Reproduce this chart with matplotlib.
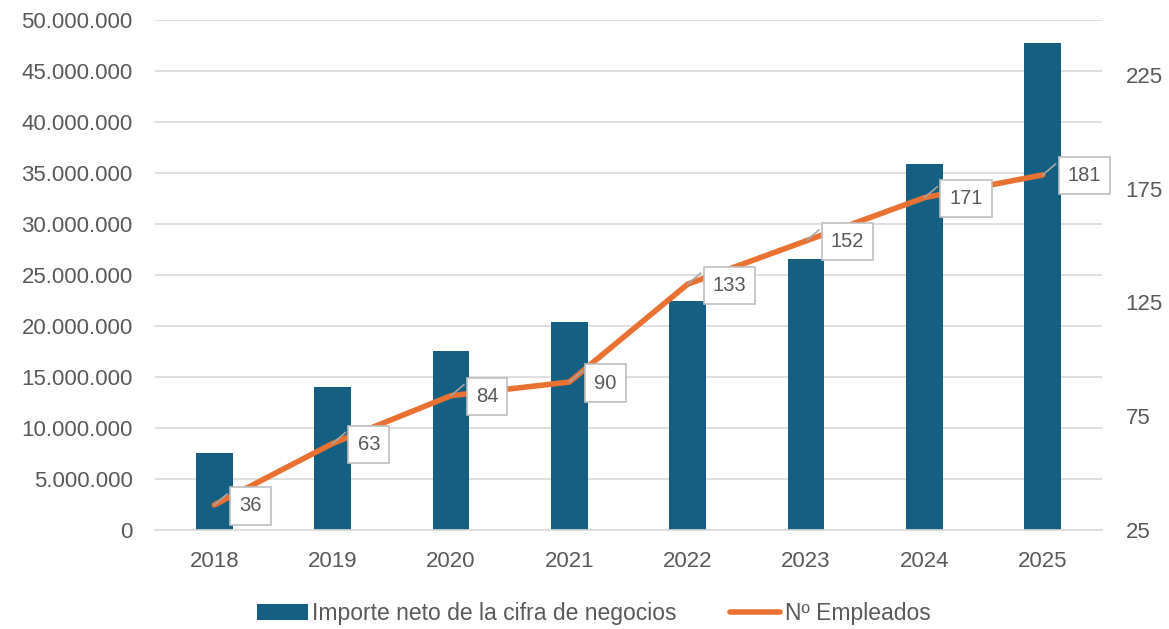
import numpy as np
import matplotlib
matplotlib.use("Agg")
import matplotlib.pyplot as plt
from matplotlib.ticker import FuncFormatter

plt.rcParams["font.family"] = ["Liberation Sans", "DejaVu Sans"]

years = ["2018", "2019", "2020", "2021", "2022", "2023", "2024", "2025"]
importe = [7550000, 14050000, 17550000, 20400000, 22450000, 26550000, 35900000, 47800000]
empleados = [36, 63, 84, 90, 133, 152, 171, 181]

bar_color = "#156082"
line_color = "#E97132"
text_color = "#595959"
grid_color = "#D9D9D9"

fig = plt.figure(figsize=(11.69, 6.29), dpi=100)
ax = fig.add_axes([0.1326, 0.1574, 0.81, 0.8106])
ax2 = ax.twinx()

x = np.arange(len(years))
ax.bar(x, importe, width=0.31, color=bar_color, zorder=2,
       label="Importe neto de la cifra de negocios")
ax.set_ylim(0, 50000000)
ax.set_yticks(np.arange(0, 50000001, 5000000))
ax.yaxis.set_major_formatter(FuncFormatter(lambda v, p: f"{int(v):,}".replace(",", ".")))
ax.grid(axis="y", color=grid_color, linewidth=1.2, zorder=0)
ax.set_axisbelow(True)
ax.set_xlim(-0.5, len(years) - 0.5)
ax.set_xticks(x)
ax.set_xticklabels(years)

ax2.plot(x, empleados, color=line_color, linewidth=4, solid_capstyle="round",
         zorder=3, label="Nº Empleados")
ax2.set_ylim(25, 249)
ax2.set_yticks([25, 75, 125, 175, 225])

for a in (ax, ax2):
    for s in a.spines.values():
        s.set_visible(False)
    a.tick_params(length=0, labelsize=16, labelcolor=text_color)
ax.tick_params(axis="x", pad=15)
ax.tick_params(axis="y", pad=16)
ax2.tick_params(axis="y", pad=17)
ax.spines["bottom"].set_visible(True)
ax.spines["bottom"].set_color(grid_color)
ax.spines["bottom"].set_linewidth(1.2)

# etiquetas con linea guia
for xi, v in zip(x, empleados):
    ax2.annotate("", xy=(xi, v), xytext=(13, 11), textcoords="offset pixels",
                 arrowprops=dict(arrowstyle="-", color="#A6A6A6", lw=1.2,
                                 shrinkA=0, shrinkB=0), zorder=4)
    ax2.annotate(str(v), xy=(xi, v), xytext=(25, -1), textcoords="offset pixels",
                 ha="left", va="center", fontsize=14.5, color=text_color, zorder=5,
                 bbox=dict(boxstyle="square,pad=0.45", fc="white", ec="#BFBFBF", lw=1.2))

h1, l1 = ax.get_legend_handles_labels()
h2, l2 = ax2.get_legend_handles_labels()
fig.legend(h1 + h2, l1 + l2, loc="lower center", bbox_to_anchor=(0.508, -0.027),
           ncol=2, frameon=False, labelcolor=text_color, fontsize=16.5,
           handlelength=2.2, handletextpad=0.2, columnspacing=2.3)

fig.savefig("out.png", dpi=100)
